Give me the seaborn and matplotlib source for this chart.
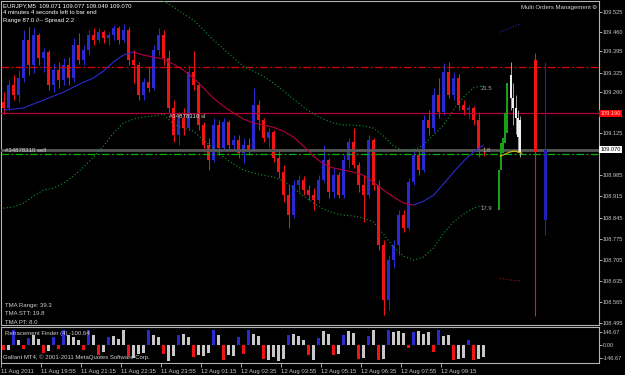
import numpy as np
import matplotlib
matplotlib.use("Agg")
import matplotlib.pyplot as plt
import seaborn as sns

# ---------------- data ----------------
header_line = "EURJPY,M5  109.071 109.077 109.049 109.070"
timer_line = "4 minutes 4 seconds left to bar end"
range_line = "Range 87.0 //-- Spread 2.2"
tma_texts = ["TMA Range: 39.3", "TMA STT: 19.8", "TMA PT: 8.0"]
retr_title = "Retracement Finder (4) -100.64"
copyright_line = "Gallant MT4, \u00a9 2001-2011 MetaQuotes Software Corp."

time_labels = ["11 Aug 2011", "11 Aug 19:55", "11 Aug 21:15", "11 Aug 22:35",
               "11 Aug 23:55", "12 Aug 01:15", "12 Aug 02:35", "12 Aug 03:55",
               "12 Aug 05:15", "12 Aug 06:35", "12 Aug 07:55", "12 Aug 09:15"]

opens = [109.227, 109.208, 109.283, 109.250, 109.307, 109.433, 109.349, 109.449, 109.373, 109.392,
         109.283, 109.333, 109.300, 109.349, 109.307, 109.416, 109.366, 109.399, 109.449, 109.433,
         109.459, 109.440, 109.449, 109.473, 109.433, 109.466, 109.366, 109.349, 109.250, 109.293,
         109.274, 109.399, 109.449, 109.373, 109.208, 109.118, 109.175, 109.142, 109.326, 109.283,
         109.151, 109.084, 109.035, 109.151, 109.075, 109.161, 109.084, 109.101, 109.058, 109.084,
         109.068, 109.217, 109.168, 109.109, 109.128, 109.042, 108.995, 108.919, 108.853, 108.952,
         108.969, 108.936, 108.919, 108.903, 108.969, 109.035, 108.929, 108.985, 108.919, 109.035,
         109.094, 109.018, 108.952, 108.919, 109.101, 108.952, 108.753, 108.572, 108.704, 108.753,
         108.853, 108.811, 108.962, 109.051, 109.002, 109.168, 109.142, 109.250, 109.194, 109.326,
         109.250, 109.307, 109.217, 109.201, 109.208, 109.168, 109.071]
highs = [109.260, 109.300, 109.316, 109.333, 109.466, 109.476, 109.473, 109.456, 109.407, 109.399,
         109.356, 109.359, 109.373, 109.376, 109.440, 109.456, 109.416, 109.466, 109.473, 109.473,
         109.466, 109.459, 109.482, 109.479, 109.485, 109.476, 109.399, 109.359, 109.307, 109.346,
         109.416, 109.473, 109.466, 109.399, 109.234, 109.194, 109.208, 109.349, 109.396, 109.293,
         109.161, 109.109, 109.175, 109.168, 109.175, 109.168, 109.118, 109.118, 109.109, 109.109,
         109.274, 109.234, 109.175, 109.142, 109.135, 109.068, 109.018, 108.952, 108.969, 108.985,
         108.982, 108.952, 108.943, 108.985, 109.084, 109.042, 109.008, 108.995, 109.051, 109.109,
         109.142, 109.028, 108.985, 109.118, 109.109, 108.969, 108.770, 108.720, 108.770, 108.870,
         108.870, 108.975, 109.075, 109.068, 109.184, 109.201, 109.274, 109.307, 109.356, 109.359,
         109.326, 109.320, 109.234, 109.217, 109.214, 109.194, 109.077]
lows = [109.188, 109.201, 109.234, 109.227, 109.293, 109.316, 109.323, 109.349, 109.326, 109.267,
        109.260, 109.274, 109.283, 109.283, 109.293, 109.353, 109.349, 109.383, 109.416, 109.426,
        109.423, 109.416, 109.433, 109.420, 109.426, 109.349, 109.290, 109.234, 109.234, 109.260,
        109.267, 109.383, 109.349, 109.194, 109.094, 109.084, 109.118, 109.135, 109.267, 109.135,
        109.061, 109.002, 109.028, 109.051, 109.068, 109.068, 109.068, 109.042, 109.025, 109.051,
        109.061, 109.135, 109.094, 109.075, 109.028, 108.975, 108.896, 108.811, 108.843, 108.929,
        108.919, 108.903, 108.870, 108.893, 108.962, 108.909, 108.909, 108.909, 108.909, 109.008,
        109.008, 108.929, 108.830, 108.909, 108.936, 108.737, 108.522, 108.539, 108.678, 108.720,
        108.797, 108.804, 108.952, 108.985, 108.995, 109.118, 109.128, 109.175, 109.184, 109.240,
        109.234, 109.201, 109.184, 109.175, 109.151, 109.045, 109.049]
closes = [109.208, 109.283, 109.250, 109.307, 109.433, 109.349, 109.449, 109.373, 109.392, 109.283,
          109.333, 109.300, 109.349, 109.307, 109.416, 109.366, 109.399, 109.449, 109.433, 109.459,
          109.440, 109.449, 109.473, 109.433, 109.466, 109.366, 109.349, 109.250, 109.293, 109.274,
          109.399, 109.449, 109.373, 109.208, 109.118, 109.175, 109.142, 109.326, 109.283, 109.151,
          109.084, 109.035, 109.151, 109.075, 109.161, 109.084, 109.101, 109.058, 109.084, 109.068,
          109.217, 109.168, 109.109, 109.128, 109.042, 108.995, 108.919, 108.853, 108.952, 108.969,
          108.936, 108.919, 108.903, 108.969, 109.035, 108.929, 108.985, 108.919, 109.035, 109.094,
          109.018, 108.952, 108.919, 109.101, 108.952, 108.753, 108.572, 108.704, 108.753, 108.853,
          108.811, 108.962, 109.051, 109.002, 109.168, 109.142, 109.250, 109.194, 109.326, 109.250,
          109.307, 109.217, 109.201, 109.208, 109.168, 109.071, 109.070]

# TMA centre line and bands, sampled every second candle
tma_center = [109.201, 109.204, 109.208, 109.221, 109.234, 109.247, 109.260, 109.277, 109.293, 109.307,
              109.330, 109.360, 109.383, 109.393, 109.383, 109.376, 109.370, 109.353, 109.333, 109.307,
              109.274, 109.240, 109.214, 109.191, 109.171, 109.158, 109.151, 109.144, 109.131, 109.111,
              109.082, 109.048, 109.022, 109.009, 109.002, 108.995, 108.985, 108.962, 108.936, 108.913,
              108.893, 108.886, 108.899, 108.919, 108.956, 108.995, 109.032, 109.062, 109.085]
tma_upper = [np.nan] * 16 + [109.562, 109.542, 109.519, 109.499, 109.466, 109.433, 109.403, 109.373,
                             109.346, 109.330, 109.313, 109.290, 109.264, 109.237, 109.211, 109.188,
                             109.171, 109.158, 109.151, 109.151, 109.148, 109.141, 109.115, 109.082,
                             109.065, 109.068, 109.085, 109.118, 109.151, 109.201, 109.244, 109.274,
                             109.283]
tma_lower = [108.876, 108.880, 108.893, 108.916, 108.936, 108.942, 108.959, 108.982, 109.012, 109.045,
             109.082, 109.125, 109.158, 109.171, 109.178, 109.181, 109.188, 109.154, 109.141, 109.131,
             109.101, 109.075, 109.045, 109.022, 109.002, 108.992, 108.985, 108.979, 108.966, 108.942,
             108.916, 108.893, 108.873, 108.860, 108.853, 108.850, 108.843, 108.830, 108.790, 108.747,
             108.717, 108.704, 108.714, 108.744, 108.793, 108.830, 108.856, 108.876, 108.886]
band_labels = ["21.5", "1.8", "17.9"]

retr_values = [-60, -50, 160, 60, -40, 80, 110, 70, -90, -70,
               90, -40, 170, 110, 90, 60, -50, 170, 110, -110,
               -80, 90, 100, 70, 165, -120, -140, -100, -90, 170,
               110, 90, -100, -175, -120, 110, 120, 90, -130, -110,
               -120, -90, 170, 110, -170, -110, -120, 90, -100, 160,
               120, 100, -150, -170, -130, -180, -150, 110, 120, 100,
               60, -110, -170, 80, 150, 120, -110, -100, 110, 150,
               130, -150, -140, 100, 170, -170, -150, 170, 140, 150,
               130, -30, 140, 150, 120, 140, -80, 170, 100, 110,
               -170, -150, -140, 60, -170, -150, -130]
retr_ticks = [146.67, 0.0, -146.67]
retr_tick_labels = ["146.67", "0.00", "-146.67"]

tp_level = 109.345
sl_level = 109.190
bid_price = 109.070
entry_level = 109.055
order_id = "#34878310"

price_ticks = [109.525, 109.460, 109.395, 109.325, 109.260, 109.125, 108.985, 108.915,
               108.845, 108.775, 108.705, 108.635, 108.565, 108.495]
price_tick_labels = ["109.525", "109.460", "109.395", "109.325", "109.260", "109.125", "108.985",
                     "108.915", "108.845", "108.775", "108.705", "108.635", "108.565", "108.495"]

# Multi Orders Management overlay (bar positions in M5-bar units)
mom_green_x = [199.2, 200.0, 200.8, 201.6, 202.4]
mom_green_hi = [109.002, 109.092, 109.108, 109.191, 109.290]
mom_green_lo = [108.870, 109.002, 109.058, 109.092, 109.125]
mom_white_x = [204.0, 204.8, 206.0, 206.8, 207.6]
mom_white_hi = [109.317, 109.240, 109.207, 109.174, 109.168]
mom_white_lo = [109.240, 109.207, 109.174, 109.111, 109.062]
mom_white_wick_hi = [109.360, 109.290, 109.250, 109.200, 109.180]
mom_white_wick_lo = [109.200, 109.150, 109.120, 109.062, 109.045]
mom_yellow_x = [199.6, 203.6, 205.6, 208.4]
mom_yellow_y = [109.048, 109.062, 109.065, 109.058]
mom_top_x = [199.6, 203.6, 207.6]
mom_top_y = [109.459, 109.472, 109.486]
mom_bot_y = [108.644, 108.638, 108.635]
signal_x = [213.6, 217.6]
signal_body_hi = [109.366, 109.068]
signal_body_lo = [109.062, 108.837]
signal_line_hi = [109.389, 109.360]
signal_line_lo = [108.519, 108.787]

# ---------------- style ----------------
BLUE = "#2a2ad2"
RED = "#f01414"
CRIMSON = "#b4003c"
GREY_TXT = "#d0d0d0"

sns.set_theme(style="dark", rc={
    "figure.facecolor": "black", "axes.facecolor": "black",
    "axes.edgecolor": "#b4b4b4", "axes.linewidth": 0.8,
    "text.color": GREY_TXT, "xtick.color": "#b4b4b4", "ytick.color": "#b4b4b4",
    "axes.grid": False,
})
plt.rcParams["font.family"] = ["Liberation Sans", "DejaVu Sans"]

W, H = 625, 375
fig = plt.figure(figsize=(6.25, 3.75), dpi=100)


def frac(l, t, r, b):
    return [l / W, 1 - b / H, (r - l) / W, (b - t) / H]


ax = fig.add_axes(frac(1, 1, 599, 325))
axl = fig.add_axes(frac(1, 327, 599, 363))
FS = 4.3
TFS = 4.1

# ---------------- candles ----------------
o = np.array(opens); h = np.array(highs); l = np.array(lows); c = np.array(closes)
pos = np.arange(len(c)) * 2 + 1
cols = np.where(c >= o, BLUE, RED)
ax.vlines(pos, l, h, colors=cols, lw=0.75, zorder=2)
ax.bar(pos, c - o, bottom=o, width=1.3, color=cols, linewidth=0, zorder=2)

# ---------------- TMA ----------------
tma_pos = pos[::2]
tc = np.array(tma_center)
rising = np.diff(tc) > 0
start = 0
for j in range(1, len(rising) + 1):
    if j == len(rising) or rising[j] != rising[start]:
        sns.lineplot(x=tma_pos[start:j + 1], y=tc[start:j + 1], ax=ax, sort=False,
                     color=BLUE if rising[start] else CRIMSON, lw=0.8, zorder=4)
        start = j
tu = np.array(tma_upper)
m = ~np.isnan(tu)
sns.lineplot(x=tma_pos[m], y=tu[m], ax=ax, sort=False, color="#109a30", lw=0.8,
             linestyle=(0, (1, 2)), zorder=4)
sns.lineplot(x=tma_pos, y=tma_lower, ax=ax, sort=False, color="#109a30", lw=0.8,
             linestyle=(0, (1, 2)), zorder=4)

# ---------------- levels ----------------
ax.axhline(tp_level, color="#e00000", lw=0.9, linestyle=(0, (6, 2, 1.5, 2)), zorder=3)
ax.axhline(sl_level, color=CRIMSON, lw=0.9, zorder=3)
ax.axhline(bid_price, color="#585858", lw=2.0, zorder=3)
ax.axhline(entry_level, color="#00b400", lw=0.9, linestyle=(0, (6, 2, 1.5, 2)), zorder=3)

# ---------------- multi orders overlay ----------------
ax.bar(mom_green_x, np.array(mom_green_hi) - np.array(mom_green_lo), bottom=mom_green_lo,
       width=0.6, color="#18a018", linewidth=0, zorder=5)
ax.vlines(mom_white_x, mom_white_wick_lo, mom_white_wick_hi, colors="#bbbbbb", lw=0.6, zorder=5)
ax.bar(mom_white_x, np.array(mom_white_hi) - np.array(mom_white_lo), bottom=mom_white_lo,
       width=0.7, color="#f0f0f0", linewidth=0, zorder=5)
sns.lineplot(x=mom_yellow_x, y=mom_yellow_y, ax=ax, sort=False, color="#c8c800", lw=0.8, zorder=6)
sns.lineplot(x=mom_top_x, y=mom_top_y, ax=ax, sort=False, color="#2828b0", lw=0.8,
             linestyle=(0, (1, 1.5)), zorder=6)
sns.lineplot(x=mom_top_x, y=mom_bot_y, ax=ax, sort=False, color="#a01818", lw=0.8,
             linestyle=(0, (1, 1.5)), zorder=6)
sig_cols = [RED, "#2020b4"]
ax.vlines(signal_x, signal_line_lo, signal_line_hi, colors=sig_cols, lw=0.8, zorder=5)
ax.bar(signal_x, np.array(signal_body_hi) - np.array(signal_body_lo), bottom=signal_body_lo,
       width=1.2, color=sig_cols, linewidth=0, zorder=5)

# ---------------- axes ----------------
for a in (ax, axl):
    a.set_xlim(0, 239.2)
    for s in a.spines.values():
        s.set_color("#b4b4b4"); s.set_linewidth(0.8)
ax.set_ylim(108.489, 109.562)
ax.set_xticks([])
ax.set_yticks(price_ticks)
ax.set_yticklabels(price_tick_labels)
ax.tick_params(axis="y", left=False, right=True, labelleft=False, labelright=True,
               length=2.0, width=0.6, pad=0.6, labelsize=TFS, colors="#c8c8c8", direction="out")
ax.set_xlabel(""); ax.set_ylabel("")

rv = np.array(retr_values)
sg = np.sign(rv)
run_start = np.r_[True, sg[1:] != sg[:-1]]
rcols = np.where(run_start, np.where(rv > 0, BLUE, RED), "#c8c8c8")
axl.bar(pos, rv, width=1.0, color=rcols, linewidth=0)
axl.set_ylim(-198, 198)
axl.set_yticks(retr_ticks)
axl.set_yticklabels(retr_tick_labels)
axl.tick_params(axis="y", left=False, right=True, labelleft=False, labelright=True,
                length=2.0, width=0.6, pad=0.6, labelsize=TFS, colors="#c8c8c8", direction="out")
axl.set_xticks(np.arange(len(time_labels)) * 16)
axl.set_xticklabels(time_labels, ha="left")
axl.tick_params(axis="x", bottom=True, length=3, width=0.6, pad=1.0, labelsize=FS,
                colors="#c8c8c8", direction="out")
axl.set_xlabel(""); axl.set_ylabel("")

# ---------------- price boxes ----------------
for lvl, txt, fc, tcol in [(sl_level, "109.190", "#ff0000", "#ffd0d0"),
                           (bid_price, "109.070", "white", "black")]:
    ax.annotate(txt, xy=(1, lvl), xycoords=ax.get_yaxis_transform(), xytext=(1.0, 0),
                textcoords="offset points", va="center", ha="left", fontsize=TFS, color=tcol,
                bbox=dict(boxstyle="square,pad=0.18", fc=fc, ec="none"), annotation_clip=False,
                zorder=10)


# ---------------- texts ----------------
def ftext(x, y, s, color=GREY_TXT, **kw):
    fig.text(x / W, 1 - y / H, s, va="center", ha="left", fontsize=FS, color=color, **kw)


ftext(3, 6, header_line, color="white")
ftext(3, 13, timer_line, color="white")
ftext(3, 20.5, range_line, color="white")
ftext(521, 7.5, "Multi Orders Management", color="#d8d8d8")
ftext(591, 7.5, "\u2699", color="#d8d8d8")
ftext(5, 305, tma_texts[0])
ftext(5, 313.5, tma_texts[1])
ftext(5, 322, tma_texts[2])
ftext(5, 333, retr_title)
ftext(3, 357, copyright_line)
ftext(169, 116.5, order_id + " sl", color="#d8d8d8")
ftext(5, 150.5, order_id + " sell", color="#d8d8d8")
ftext(481, 88, band_labels[0], color="#a8a8a8")
ftext(483, 150, band_labels[1], color="#a8a8a8")
ftext(481, 208, band_labels[2], color="#a8a8a8")

fig.savefig("out.png", dpi=100, facecolor="black")
